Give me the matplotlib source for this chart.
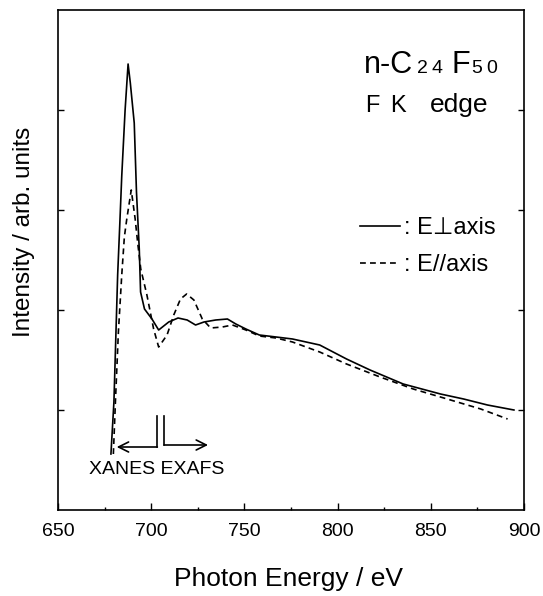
import matplotlib.pyplot as plt
import numpy as np

plt.rcParams['font.family'] = ['Liberation Sans', 'DejaVu Sans']

# E perpendicular to axis (solid)
e_perp = [678.4, 680.0, 681.1, 682.0, 683.2, 684.2, 686.0, 687.6, 688.8, 690.9,
          692.1, 693.6, 694.3, 696.4, 700.4, 704.0, 709.4, 714.4, 719.3, 723.8,
          728.3, 734.6, 740.9, 745.4, 750.8, 758.0, 767.0, 775.8, 790.4, 804.8,
          817.4, 835.2, 855.2, 867.6, 880.4, 894.6]
i_perp = [0.56, 1.08, 1.78, 2.35, 2.88, 3.34, 4.00, 4.46, 4.27, 3.87,
          3.18, 2.61, 2.18, 2.01, 1.91, 1.80, 1.88, 1.92, 1.90, 1.85,
          1.88, 1.90, 1.91, 1.86, 1.81, 1.75, 1.73, 1.71, 1.65, 1.51,
          1.40, 1.26, 1.16, 1.11, 1.05, 1.00]

# E parallel to axis (dashed)
e_par = [679.7, 680.8, 682.4, 684.2, 685.6, 686.9, 689.3, 691.4, 692.7, 694.4,
         697.7, 701.3, 704.0, 708.5, 712.1, 715.7, 719.0, 722.9, 727.4, 731.9,
         738.2, 743.6, 750.8, 758.0, 767.0, 775.8, 790.4, 804.8, 822.8, 840.6,
         858.8, 876.8, 891.2]
i_par = [0.56, 1.08, 1.78, 2.35, 2.73, 2.91, 3.20, 2.91, 2.68, 2.41,
         2.15, 1.81, 1.63, 1.75, 1.95, 2.11, 2.16, 2.10, 1.91, 1.82,
         1.83, 1.85, 1.80, 1.74, 1.72, 1.68, 1.58, 1.46, 1.33, 1.21,
         1.11, 1.01, 0.91]

fig = plt.figure(figsize=(5.43, 5.96), dpi=100)
ax = fig.add_axes([58/543, 1-510/596, 466/543, 500/596])

ax.plot(e_perp, i_perp, color='black', lw=1.2, label=': E\u22a5axis')
ax.plot(e_par, i_par, color='black', lw=1.2, dashes=(3.5, 2.5), label=': E//axis')

ax.set_xlim(650, 900)
ax.set_ylim(0, 5)
ax.set_xticks(np.arange(650, 901, 50))
ax.set_xticks(np.arange(675, 900, 50), minor=True)
ax.set_yticks([1, 2, 3, 4])
ax.set_yticklabels([])
ax.tick_params(axis='x', which='major', direction='in', length=5, width=1, pad=9, labelsize=14)
ax.tick_params(axis='x', which='minor', direction='in', length=2.5, width=1)
ax.tick_params(axis='y', direction='in', length=4, width=1, right=True)
for s in ax.spines.values():
    s.set_linewidth(1.2)

ax.set_xlabel('Photon Energy / eV', fontsize=19)
ax.xaxis.set_label_coords((289 - 58) / 466, (510 - 579) / 500)
ax.xaxis.label.set_va('center')
ax.set_ylabel('Intensity / arb. units', fontsize=17.5)
ax.yaxis.set_label_coords((24 - 58) / 466, (510 - 232) / 500)
ax.yaxis.label.set_va('center')

ax.legend(loc='upper left', bbox_to_anchor=((360 - 58) / 466, (510 - 217) / 500),
          frameon=False, borderpad=0, borderaxespad=0,
          fontsize=17, handlelength=1.7, handletextpad=0.15, labelspacing=0.63)

# sample name
def px(x, y):
    return x/543, 1 - y/596

fig.text(*px(364, 73), 'n-C', fontsize=22, va='baseline')
for ch, x in zip('24', [417, 432]):
    fig.text(*px(x, 73), ch, fontsize=14, va='baseline')
fig.text(*px(451, 73), 'F', fontsize=22, va='baseline')
for ch, x in zip('50', [471, 486]):
    fig.text(*px(x, 73), ch, fontsize=14, va='baseline')
fig.text(*px(365, 112), 'F', fontsize=17, va='baseline')
fig.text(*px(390, 112), 'K', fontsize=17, va='baseline')
fig.text(*px(430, 112), 'edge', fontsize=19, va='baseline')

# XANES / EXAFS markers
ax.plot([703.3, 703.3], [0.63, 0.94], color='black', lw=1.2)
ax.plot([706.9, 706.9], [0.65, 0.94], color='black', lw=1.2)
ax.annotate('', xy=(681.5, 0.63), xytext=(703.3, 0.63),
            arrowprops=dict(arrowstyle='->', lw=1.2, color='black', mutation_scale=18, shrinkA=0, shrinkB=0))
ax.annotate('', xy=(730.5, 0.65), xytext=(706.9, 0.65),
            arrowprops=dict(arrowstyle='->', lw=1.2, color='black', mutation_scale=18, shrinkA=0, shrinkB=0))
ax.text(666.5, 0.41, 'XANES EXAFS', fontsize=14, va='center', ha='left')

fig.savefig('out.png', dpi=100)
